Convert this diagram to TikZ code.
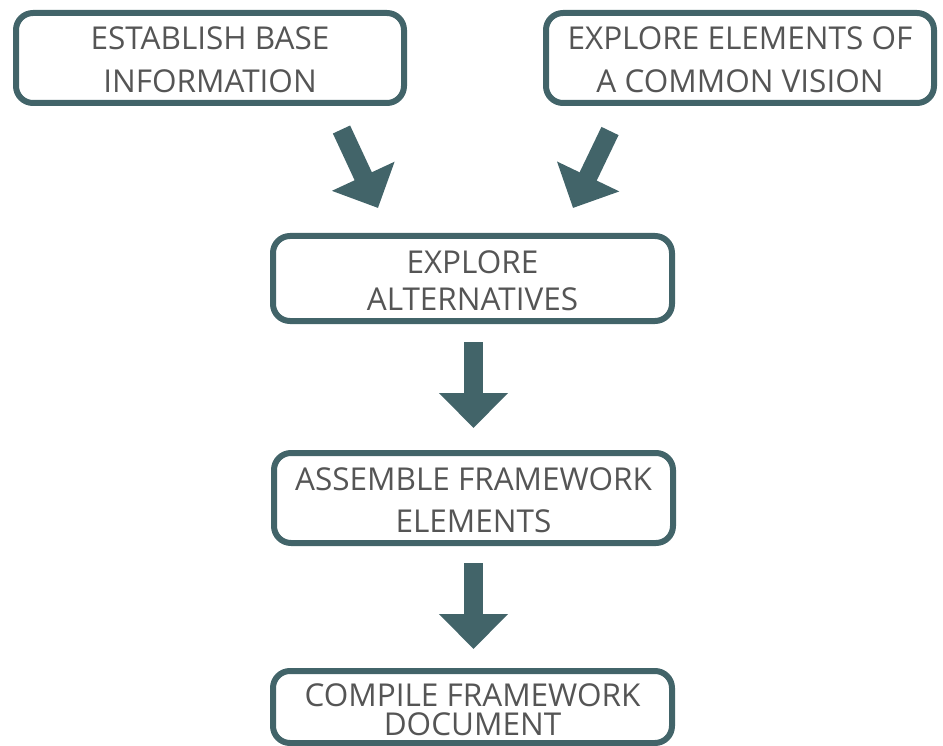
\documentclass[tikz,border=0pt]{standalone}
\usepackage{fontspec}
\setmainfont{Open Sans}
\usetikzlibrary{arrows.meta}
\definecolor{teal}{RGB}{66,100,105}
\definecolor{txt}{RGB}{85,85,85}
\newcommand{\toplift}{\rule{0pt}{27pt}}
\tikzset{
  box/.style={draw=teal, line width=6pt, rounded corners=17pt, fill=white,
    align=center, text=txt, inner sep=0pt, anchor=center},
  blockarrow/.style={draw=teal, line width=19pt, line cap=butt,
    -{Triangle[width=67pt,length=35pt]}},
}
\begin{document}
\begin{tikzpicture}[x=1pt,y=-1pt]
\useasboundingbox (0,0) rectangle (943,746);
\node[box, minimum width=388pt, minimum height=90pt,
  font={\fontsize{31.5}{43}\selectfont}] (b1) at (210,58)
  {\toplift ESTABLISH BASE\\INFORMATION};
\node[box, minimum width=388pt, minimum height=90pt,
  font={\fontsize{31.5}{43}\selectfont}] (b2) at (740,58)
  {\toplift EXPLORE ELEMENTS OF\\A COMMON VISION};
\node[box, minimum width=399pt, minimum height=85pt,
  font={\fontsize{31.5}{37}\selectfont}] (b3) at (472.5,278.5)
  {\toplift EXPLORE\\ALTERNATIVES};
\node[box, minimum width=399pt, minimum height=90pt,
  font={\fontsize{31.5}{42}\selectfont}] (b4) at (473.5,498)
  {\toplift ASSEMBLE FRAMEWORK\\ELEMENTS};
\node[box, minimum width=399pt, minimum height=72pt,
  font={\fontsize{31.5}{29}\selectfont}] (b5) at (472.5,707)
  {\rule{0pt}{29pt}COMPILE FRAMEWORK\\DOCUMENT};
\coordinate (a1s) at (341.5,129.5);
\coordinate (a1e) at (378,208);
\coordinate (a2s) at (610,131);
\coordinate (a2e) at (573,208);
\coordinate (a3s) at (473.5,342);
\coordinate (a3e) at (473.5,428);
\coordinate (a4s) at (473.5,563);
\coordinate (a4e) at (473.5,649);
\draw[blockarrow] (a1s) -- (a1e);
\draw[blockarrow] (a2s) -- (a2e);
\draw[blockarrow] (a3s) -- (a3e);
\draw[blockarrow] (a4s) -- (a4e);
\end{tikzpicture}
\end{document}
